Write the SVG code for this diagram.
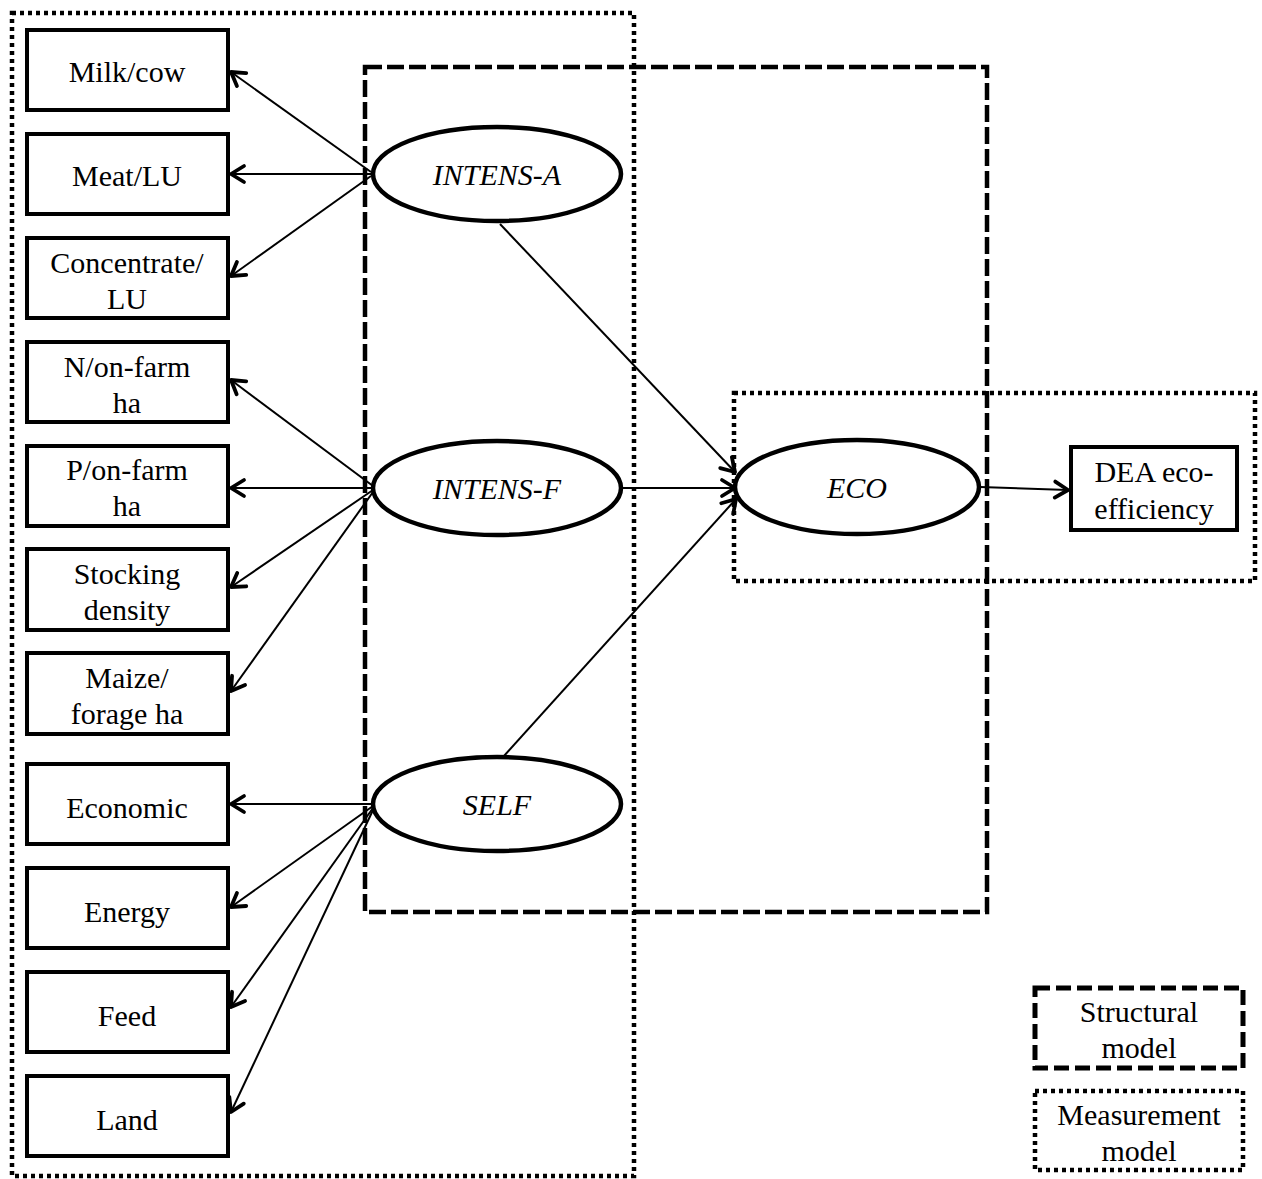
<svg xmlns="http://www.w3.org/2000/svg" width="1262" height="1179" viewBox="0 0 1262 1179">
<style>
.box{fill:#fff;stroke:#000;stroke-width:4}
.ell{fill:#fff;stroke:#000;stroke-width:4.5}
.t{font-family:"Liberation Serif","Times New Roman",serif;font-size:30px;fill:#000;text-anchor:middle}
.i{font-style:italic}
.con{stroke:#000;stroke-width:2;fill:none;marker-end:url(#ah)}
.dot{fill:none;stroke:#000;stroke-width:4.5;stroke-dasharray:4 4}
.dash{fill:none;stroke:#000;stroke-width:4.5;stroke-dasharray:17 5}
</style>
<defs>
<marker id="ah" markerUnits="userSpaceOnUse" markerWidth="20" markerHeight="20" refX="14" refY="8" orient="auto" overflow="visible">
<path d="M1,0 L14,8 L1,16" fill="none" stroke="#000" stroke-width="3.8" stroke-linecap="round" stroke-linejoin="round"/>
</marker>
</defs>
<rect width="1262" height="1179" fill="#fff"/>

<g id="frames">
<rect class="dot" x="12" y="13" width="622" height="1163"/>
<rect class="dash" x="365" y="67" width="622" height="845"/>
<rect class="dot" x="734" y="393" width="521" height="188"/>
</g>

<g id="connectors">
<line class="con" x1="371" y1="172" x2="231" y2="72"/>
<line class="con" x1="371" y1="174" x2="231" y2="174"/>
<line class="con" x1="371" y1="176" x2="231" y2="276"/>
<line class="con" x1="373" y1="486" x2="231" y2="380"/>
<line class="con" x1="373" y1="488" x2="231" y2="488"/>
<line class="con" x1="373" y1="490" x2="231" y2="587"/>
<line class="con" x1="373" y1="492" x2="231" y2="691"/>
<line class="con" x1="373" y1="804" x2="231" y2="804"/>
<line class="con" x1="373" y1="806" x2="231" y2="907"/>
<line class="con" x1="373" y1="808" x2="231" y2="1007"/>
<line class="con" x1="373" y1="810" x2="231" y2="1112"/>
<line class="con" x1="500" y1="224" x2="735" y2="472"/>
<line class="con" x1="622" y1="488" x2="735" y2="488"/>
<line class="con" x1="504" y1="756" x2="736" y2="499"/>
<line class="con" x1="980" y1="487" x2="1068" y2="490"/>
</g>

<g id="milk"><rect class="box" x="27" y="30" width="201" height="80"/><text class="t" x="127" y="82">Milk/cow</text></g>
<g id="meat"><rect class="box" x="27" y="134" width="201" height="80"/><text class="t" x="127" y="186">Meat/LU</text></g>
<g id="conc"><rect class="box" x="27" y="238" width="201" height="80"/><text class="t" x="127" y="273">Concentrate/</text><text class="t" x="127" y="309">LU</text></g>
<g id="nfarm"><rect class="box" x="27" y="342" width="201" height="80"/><text class="t" x="127" y="377">N/on-farm</text><text class="t" x="127" y="413">ha</text></g>
<g id="pfarm"><rect class="box" x="27" y="446" width="201" height="80"/><text class="t" x="127" y="480">P/on-farm</text><text class="t" x="127" y="516">ha</text></g>
<g id="stock"><rect class="box" x="27" y="549" width="201" height="81"/><text class="t" x="127" y="584">Stocking</text><text class="t" x="127" y="620">density</text></g>
<g id="maize"><rect class="box" x="27" y="653" width="201" height="81"/><text class="t" x="127" y="688">Maize/</text><text class="t" x="127" y="724">forage ha</text></g>
<g id="econ"><rect class="box" x="27" y="764" width="201" height="80"/><text class="t" x="127" y="818">Economic</text></g>
<g id="energy"><rect class="box" x="27" y="868" width="201" height="80"/><text class="t" x="127" y="922">Energy</text></g>
<g id="feed"><rect class="box" x="27" y="972" width="201" height="80"/><text class="t" x="127" y="1026">Feed</text></g>
<g id="land"><rect class="box" x="27" y="1076" width="201" height="80"/><text class="t" x="127" y="1130">Land</text></g>

<g id="intensA"><ellipse class="ell" cx="497" cy="174" rx="124" ry="47"/><text class="t i" x="497" y="185">INTENS-A</text></g>
<g id="intensF"><ellipse class="ell" cx="497" cy="488" rx="124" ry="47"/><text class="t i" x="497" y="499">INTENS-F</text></g>
<g id="self"><ellipse class="ell" cx="497" cy="804" rx="124" ry="47"/><text class="t i" x="497" y="815">SELF</text></g>
<g id="eco"><ellipse class="ell" cx="857" cy="487" rx="122" ry="47"/><text class="t i" x="857" y="498">ECO</text></g>

<g id="dea"><rect class="box" x="1071" y="447" width="166" height="83"/><text class="t" x="1154" y="482">DEA eco-</text><text class="t" x="1154" y="519">efficiency</text></g>

<g id="legend-structural"><rect x="1035" y="988" width="208" height="80" fill="none" stroke="#000" stroke-width="5" stroke-dasharray="15 6"/><text class="t" x="1139" y="1022">Structural</text><text class="t" x="1139" y="1058">model</text></g>
<g id="legend-measurement"><rect class="dot" x="1035" y="1091" width="208" height="79"/><text class="t" x="1139" y="1125">Measurement</text><text class="t" x="1139" y="1161">model</text></g>
</svg>
